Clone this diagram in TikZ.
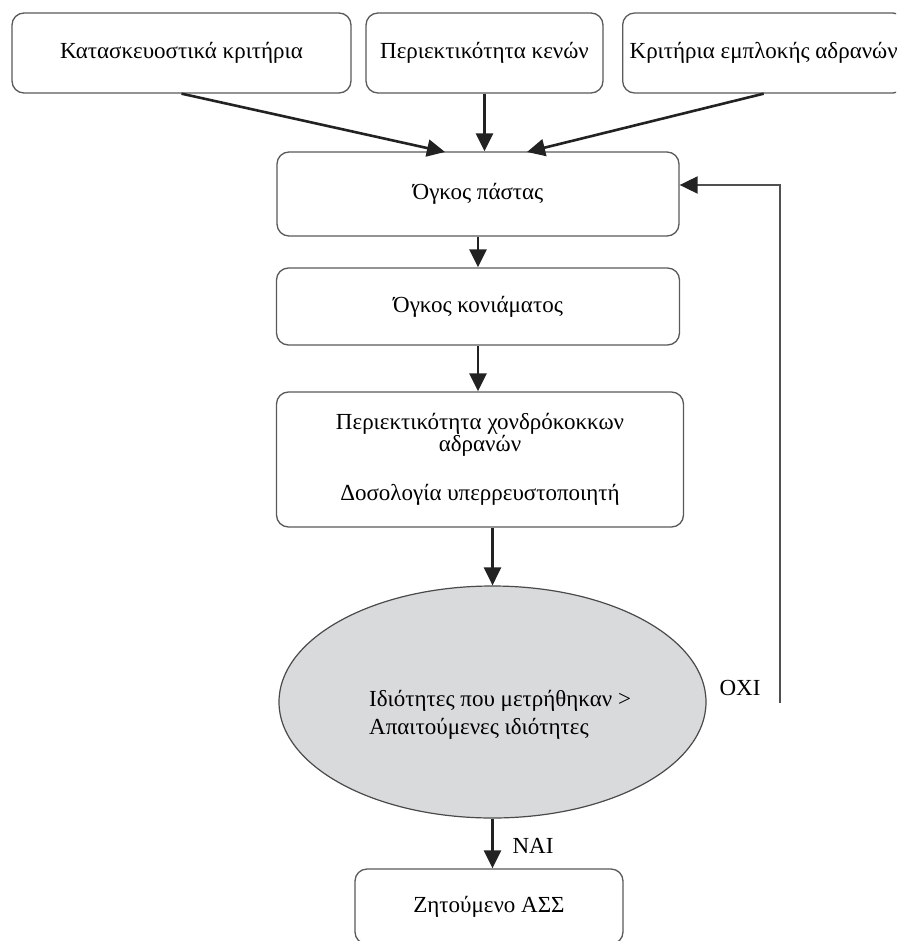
\documentclass[tikz,border=0pt]{standalone}
\usepackage{fontspec}
\setmainfont{Liberation Serif}
\usetikzlibrary{arrows.meta,shapes.geometric}
\definecolor{boxgray}{HTML}{5A5A5A}
\definecolor{arrowblack}{HTML}{222222}
\definecolor{ellfill}{HTML}{D9DADC}
\definecolor{ellborder}{HTML}{4A4A4A}
\definecolor{fbgray}{HTML}{505050}
\begin{document}
\begin{tikzpicture}[x=1pt,y=-1pt,
  every node/.style={font=\fontsize{23}{22}\selectfont, text=black},
  box/.style={draw=boxgray, line width=1.3pt, rounded corners=12pt, fill=white, inner sep=0pt},
  arr/.style={draw=arrowblack, line width=2.6pt, -{Triangle[length=18pt,width=17pt]}},
  fbline/.style={draw=fbgray, line width=2pt, -{Triangle[length=18pt,width=17pt,color=arrowblack]}},
  dec/.style={ellipse, draw=ellborder, fill=ellfill, line width=1.2pt, inner sep=0pt}
]
\useasboundingbox (0,0) rectangle (896,941);
\fill[white] (0,0) rectangle (896,941);
\clip (0,0) rectangle (896,941);

\node[box, minimum width=339pt, minimum height=80pt] (k1) at (181.5,53) {Κατασκευοστικά κριτήρια};
\node[box, minimum width=237pt, minimum height=80pt] (k2) at (484.5,53) {Περιεκτικότητα κενών};
\node[box, anchor=west, inner xsep=7pt, minimum height=80pt] (k3) at (622,53) {Κριτήρια εμπλοκής αδρανών};

\node[box, minimum width=402pt, minimum height=84pt] (pasta) at (478,194) {Όγκος πάστας};
\node[box, minimum width=403pt, minimum height=77pt] (kon) at (478,306.5) {Όγκος κονιάματος};
\node[box, minimum width=407pt, minimum height=135pt, align=center] (big) at (480,459.5)
  {Περιεκτικότητα χονδρόκοκκων\\αδρανών\\[27pt]Δοσολογία υπερρευστοποιητή};

\node[dec, minimum width=427pt, minimum height=232pt] (dec) at (492.5,702) {};
\node[align=left, anchor=west, inner sep=0pt, font=\fontsize{23}{28}\selectfont] (dectext) at (369,715)
  {Ιδιότητες που μετρήθηκαν >\\Απαιτούμενες ιδιότητες};

\node[box, minimum width=268pt, minimum height=75pt] (fin) at (489,906.5) {Ζητούμενο ΑΣΣ};

\node[inner sep=0pt] (oxi) at (740,688) {ΟΧΙ};
\node[inner sep=0pt] (nai) at (533,846) {ΝΑΙ};

\coordinate (t1) at (445,152);
\coordinate (t3) at (527,152);
\draw[arr] (k1.south) -- (t1);
\draw[arr] (k2.south) -- (k2.south |- pasta.north);
\draw[arr] (k3.south) -- (t3);

\draw[arr] (pasta.south) -- (kon.north);
\draw[arr] (kon.south) -- (kon.south |- big.north);
\draw[arr] (dec.north |- big.south) -- (dec.north);
\draw[arr] (dec.south) -- (dec.south |- fin.north);

\coordinate (fbbot) at (780,703);
\coordinate (fbtop) at (780,185);
\draw[fbline] (fbbot) -- (fbtop) -- (pasta.east |- fbtop);
\end{tikzpicture}
\end{document}
